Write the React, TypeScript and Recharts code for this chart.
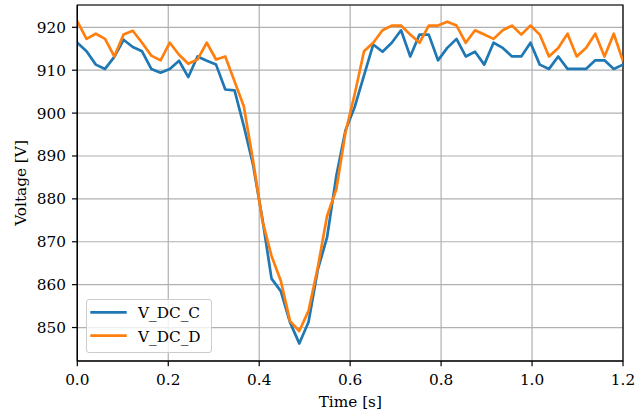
import React from 'react';
import { LineChart, Line, XAxis, YAxis, CartesianGrid, Legend, ReferenceArea, Label } from 'recharts';

const time = [
  0, 0.0203, 0.0407, 0.061, 0.0814, 0.1017, 0.122, 0.1424, 0.1627, 0.1831,
  0.2034, 0.2237, 0.2441, 0.2644, 0.2847, 0.3051, 0.3254, 0.3458, 0.3661, 0.3864,
  0.4068, 0.4271, 0.4475, 0.4678, 0.4881, 0.5085, 0.5288, 0.5492, 0.5695, 0.5898,
  0.6102, 0.6305, 0.6508, 0.6712, 0.6915, 0.7119, 0.7322, 0.7525, 0.7729, 0.7932,
  0.8136, 0.8339, 0.8542, 0.8746, 0.8949, 0.9153, 0.9356, 0.9559, 0.9763, 0.9966,
  1.0169, 1.0373, 1.0576, 1.078, 1.0983, 1.1186, 1.139, 1.1593, 1.1797, 1.2,
];

const vdcC = [
  916.4, 914.4, 911.3, 910.3, 913.1, 917.1, 915.4, 914.4, 910.3, 909.4,
  910.3, 912.2, 908.4, 913.2, 912.2, 911.3, 905.5, 905.3, 897.0, 888.0,
  875.5, 861.4, 858.5, 851.2, 846.3, 851.3, 863.5, 871.0, 885.3, 896.0,
  901.5, 908.8, 916.0, 914.3, 916.4, 919.3, 913.2, 918.3, 918.3, 912.3,
  915.2, 917.3, 913.2, 914.3, 911.3, 916.4, 915.2, 913.2, 913.2, 916.4,
  911.3, 910.3, 913.2, 910.3, 910.3, 910.3, 912.3, 912.3, 910.3, 911.3,
];

const vdcD = [
  921.4, 917.3, 918.5, 917.3, 913.2, 918.3, 919.2, 916.4, 913.4, 912.3,
  916.4, 913.6, 911.5, 912.5, 916.4, 912.5, 913.2, 907.4, 901.6, 889.0,
  875.0, 866.7, 860.9, 851.5, 849.2, 853.9, 864.0, 876.0, 882.2, 895.5,
  904.5, 914.4, 916.4, 919.3, 920.4, 920.4, 918.3, 916.4, 920.4, 920.4,
  921.3, 920.4, 916.4, 919.3, 918.3, 917.3, 919.3, 920.4, 918.3, 920.4,
  918.3, 913.2, 915.2, 918.5, 913.2, 915.2, 918.5, 913.2, 918.5, 912.1,
];

const xTicks = [0, 0.2, 0.4, 0.6, 0.8, 1.0, 1.2];
const yTicks = [850, 860, 870, 880, 890, 900, 910, 920];
const seriesNames = ['V_DC_C', 'V_DC_D'];
const seriesColors = ['#1f77b4', '#ff7f0e'];

const data = time.map((t, i) => ({ t, c: vdcC[i], d: vdcD[i] }));

const FONT = 'DejaVu Serif';
const FS = 15.3;
const LW = 2.7;
const TICK = 5.35;
const X_DOMAIN: [number, number] = [0, 1.2];
const Y_DOMAIN: [number, number] = [842.2, 925.2];

const renderLegend = (props: any) => {
  const payload = props.payload || [];
  return (
    <div
      style={{
        width: 126,
        height: 54,
        boxSizing: 'border-box',
        border: '1px solid #cccccc',
        borderRadius: 3,
        background: 'rgba(255,255,255,0.8)',
        position: 'relative',
      }}
    >
      <svg width={126} height={54} style={{ position: 'absolute', left: -1, top: -1 }}>
        {payload.map((entry: any, i: number) => (
          <g key={i}>
            <line
              x1={4.3}
              x2={40.7}
              y1={13.3 + i * 23.4}
              y2={13.3 + i * 23.4}
              stroke={entry.color}
              strokeWidth={LW}
            />
            <text x={52} y={19.3 + i * 23.4} style={{ fontFamily: FONT, fontSize: FS }} fill="#000">
              {entry.value}
            </text>
          </g>
        ))}
      </svg>
    </div>
  );
};

export default function App() {
  return (
    <div style={{ position: 'fixed', left: 0, top: 0, width: 638, height: 413, background: '#fff', fontFamily: FONT }}>
      <LineChart width={638} height={413} data={data} margin={{ top: 5, right: 15, left: 0, bottom: 0 }} style={{ fontFamily: FONT }}>
        <CartesianGrid stroke="#b0b0b0" strokeWidth={1.2} />
        <XAxis
          dataKey="t"
          type="number"
          domain={X_DOMAIN}
          ticks={xTicks}
          allowDataOverflow
          height={52}
          tickFormatter={(v: number) => v.toFixed(1)}
          tick={{ fill: '#000', fontSize: FS, fontFamily: FONT }}
          tickSize={TICK}
          tickMargin={7.8}
          stroke="#000"
          axisLine={{ stroke: '#000', strokeWidth: 1.2 }}
          tickLine={{ stroke: '#000', strokeWidth: 1.2 }}
          interval={0}
        >
          <Label
            content={() => (
              <text x={350.3} y={406.5} textAnchor="middle" style={{ fontFamily: FONT, fontSize: FS }} fill="#000">
                Time [s]
              </text>
            )}
          />
        </XAxis>
        <YAxis
          type="number"
          domain={Y_DOMAIN}
          ticks={yTicks}
          allowDataOverflow
          width={77.3}
          tick={{ fill: '#000', fontSize: FS, fontFamily: FONT }}
          tickSize={TICK}
          tickMargin={6}
          stroke="#000"
          axisLine={{ stroke: '#000', strokeWidth: 1.2 }}
          tickLine={{ stroke: '#000', strokeWidth: 1.2 }}
          interval={0}
        >
          <Label
            content={() => (
              <text
                x={26}
                y={183}
                transform="rotate(-90 26 183)"
                textAnchor="middle"
                style={{ fontFamily: FONT, fontSize: FS }}
                fill="#000"
              >
                Voltage [V]
              </text>
            )}
          />
        </YAxis>
        <ReferenceArea
          x1={X_DOMAIN[0]}
          x2={X_DOMAIN[1]}
          y1={Y_DOMAIN[0]}
          y2={Y_DOMAIN[1]}
          fill="none"
          fillOpacity={0}
          stroke="#000"
          strokeWidth={1.2}
          ifOverflow="extendDomain"
        />
        <Line
          dataKey="c"
          name={seriesNames[0]}
          stroke={seriesColors[0]}
          strokeWidth={LW}
          dot={false}
          isAnimationActive={false}
          strokeLinejoin="round"
        />
        <Line
          dataKey="d"
          name={seriesNames[1]}
          stroke={seriesColors[1]}
          strokeWidth={LW}
          dot={false}
          isAnimationActive={false}
          strokeLinejoin="round"
        />
        <Legend
          layout="vertical"
          align="center"
          verticalAlign="middle"
          content={renderLegend}
          wrapperStyle={{ position: 'absolute', left: 86, top: 299, width: 126, height: 54, margin: 0 }}
        />
      </LineChart>
    </div>
  );
}
